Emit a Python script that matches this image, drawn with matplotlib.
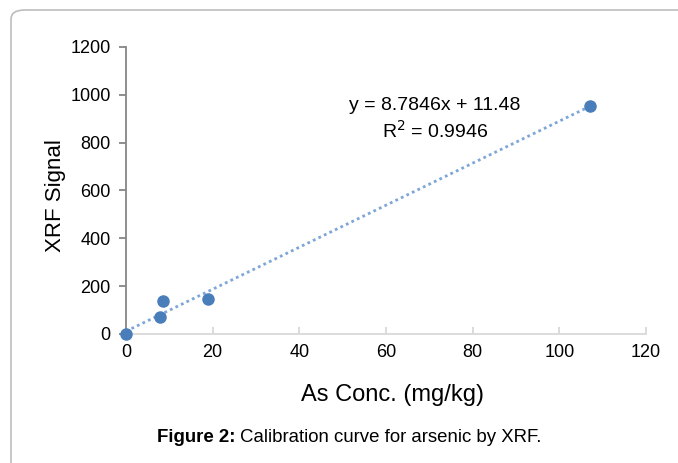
import numpy as np
import matplotlib.pyplot as plt
from matplotlib.patches import FancyBboxPatch

plt.rcParams['font.family'] = ['Liberation Sans', 'DejaVu Sans']

# data
conc = [0, 7.8, 8.6, 19.0, 107.1]
signal = [0, 70, 138, 146, 954]
slope = 8.7846
intercept = 11.48
r2 = 0.9946

xticks = [0, 20, 40, 60, 80, 100, 120]
yticks = [0, 200, 400, 600, 800, 1000, 1200]

fig = plt.figure(figsize=(6.78, 4.63), dpi=100)

# page frame with rounded corner
frame = FancyBboxPatch((11 / 678, -0.1), 1.2, 1 - 10 / 463 + 0.1,
                       boxstyle="round,pad=0,rounding_size=0.02",
                       transform=fig.transFigure, facecolor='white',
                       edgecolor='#bdbdbd', linewidth=1.2, zorder=-5)
fig.patches.append(frame)

ax = fig.add_axes([126 / 678, 1 - 334 / 463, 520 / 678, 287 / 463])
ax.set_facecolor('none')

# trendline
xs = np.array([0, max(conc)])
ax.plot(xs, slope * xs + intercept, linestyle=(0, (1, 1.2)), color='#7ea6d8',
        linewidth=2, zorder=2, clip_on=False)
ax.plot(conc, signal, 'o', color='#4a7ebb', markersize=8, zorder=3, clip_on=False)

ax.set_xlim(0, 120)
ax.set_ylim(0, 1200)
ax.set_xticks(xticks)
ax.set_yticks(yticks)

for s in ['top', 'right']:
    ax.spines[s].set_visible(False)
ax.spines['left'].set_color('#868686')
ax.spines['left'].set_linewidth(1.3)
ax.spines['bottom'].set_color('#d9d9d9')
ax.spines['bottom'].set_linewidth(1.3)

ax.tick_params(axis='y', direction='out', length=5, width=1.3, color='#868686',
               labelsize=13, pad=6)
ax.tick_params(axis='x', direction='in', length=5, width=1.3, color='#d9d9d9',
               labelsize=13, pad=7)

ax.set_xlabel('As Conc. (mg/kg)', fontsize=17, labelpad=17)
ax.xaxis.label.set_x(0.513)
ax.set_ylabel('XRF Signal', fontsize=16, labelpad=3)
ax.yaxis.label.set_y(0.484)

fig.text(435 / 678, 1 - 106 / 463, f'y = {slope}x + {intercept}', fontsize=14,
         ha='center', va='center')
fig.text(435 / 678, 1 - 131 / 463, f'R$^2$ = {r2}', fontsize=14,
         ha='center', va='center')

fig.text(157 / 678, 1 - 437 / 463, 'Figure 2:', fontsize=13.4, fontweight='bold',
         ha='left', va='center')
fig.text(240 / 678, 1 - 437 / 463, 'Calibration curve for arsenic by XRF.',
         fontsize=13.4, ha='left', va='center')

fig.savefig('out.png', dpi=100)
